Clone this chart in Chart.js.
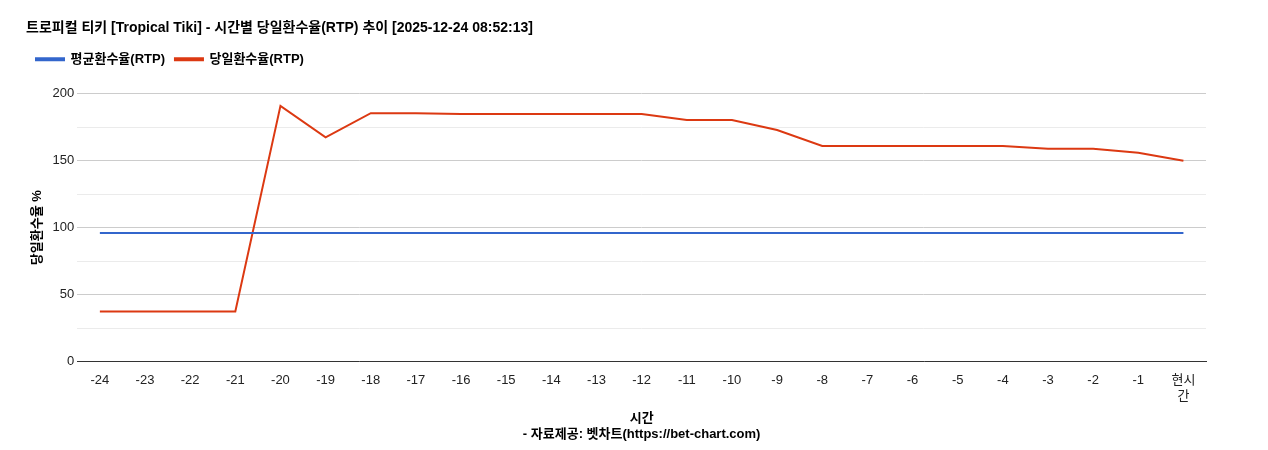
<!DOCTYPE html>
<html>
<head>
<meta charset="utf-8">
<script src="https://cdn.jsdelivr.net/npm/chart.js@4"></script>
<style>
  html, body { margin: 0; padding: 0; background: #fff; }
  #wrap { width: 1268px; height: 450px; position: relative; }
</style>
</head>
<body>
<div id="wrap"><canvas id="rtpChart"></canvas></div>
<script>
// hour labels, last one wraps onto two lines
const hourLabels = ['-24','-23','-22','-21','-20','-19','-18','-17','-16','-15','-14','-13',
  '-12','-11','-10','-9','-8','-7','-6','-5','-4','-3','-2','-1',['현시','간']];

// average RTP (flat)
const avgRtp = [96,96,96,96,96,96,96,96,96,96,96,96,96,96,96,96,96,96,96,96,96,96,96,96,96];

// daily RTP
const dailyRtp = [37.5,37.5,37.5,37.5,191,167.5,185.5,185.5,185,185,185,185,
  185,180.5,180.5,173,161,161,161,161,161,159,159,156,150];

const yTicks = [0, 50, 100, 150, 200];

Chart.defaults.font.family = '"Liberation Sans", Arial, "Noto Sans CJK KR", sans-serif';
Chart.defaults.color = '#222';

// legend gets extra room below it
const legendGap = {
  id: 'legendGap',
  beforeInit(chart) {
    const orig = chart.legend.fit;
    chart.legend.fit = function () { orig.bind(this)(); this.height += 18; };
  }
};

new Chart(document.getElementById('rtpChart').getContext('2d'), {
  type: 'line',
  plugins: [legendGap],
  data: {
    labels: hourLabels,
    datasets: [
      {
        label: '평균환수율(RTP)',
        data: avgRtp,
        borderColor: '#3366cc',
        backgroundColor: '#3366cc',
        borderWidth: 2,
        pointRadius: 0,
        tension: 0
      },
      {
        label: '당일환수율(RTP)',
        data: dailyRtp,
        borderColor: '#dc3912',
        backgroundColor: '#dc3912',
        borderWidth: 2,
        pointRadius: 0,
        tension: 0
      }
    ]
  },
  options: {
    responsive: true,
    maintainAspectRatio: false,
    animation: false,
    layout: { padding: { left: 26, right: 62, top: 14, bottom: 4 } },
    plugins: {
      title: {
        display: true,
        align: 'start',
        text: '트로피컬 티키 [Tropical Tiki] - 시간별 당일환수율(RTP) 추이 [2025-12-24 08:52:13]',
        font: { size: 14, weight: 'bold' },
        color: '#000',
        padding: { top: 6, bottom: 6 }
      },
      legend: {
        align: 'start',
        labels: {
          boxWidth: 28,
          boxHeight: 2,
          font: { size: 13, weight: 'bold' },
          color: '#000'
        }
      }
    },
    scales: {
      x: {
        offset: true,
        grid: { display: false },
        border: { color: '#333' },
        ticks: { font: { size: 13 }, color: '#222', maxRotation: 0, autoSkip: false },
        title: {
          display: true,
          text: ['시간', '- 자료제공: 벳차트(https://bet-chart.com)'],
          font: { size: 13, weight: 'bold' },
          color: '#000',
          padding: { top: 4 }
        }
      },
      y: {
        min: 0,
        max: 200,
        ticks: {
          stepSize: 25,
          font: { size: 13 },
          color: '#222',
          callback: v => yTicks.includes(v) ? v : ''
        },
        grid: {
          color: ctx => ctx.tick && ctx.tick.value % 50 === 0 ? '#cccccc' : '#ebebeb',
          drawTicks: false
        },
        border: { display: false },
        title: {
          display: true,
          text: '당일환수율 %',
          font: { size: 13, weight: 'bold' },
          color: '#000'
        }
      }
    }
  }
});
</script>
</body>
</html>
